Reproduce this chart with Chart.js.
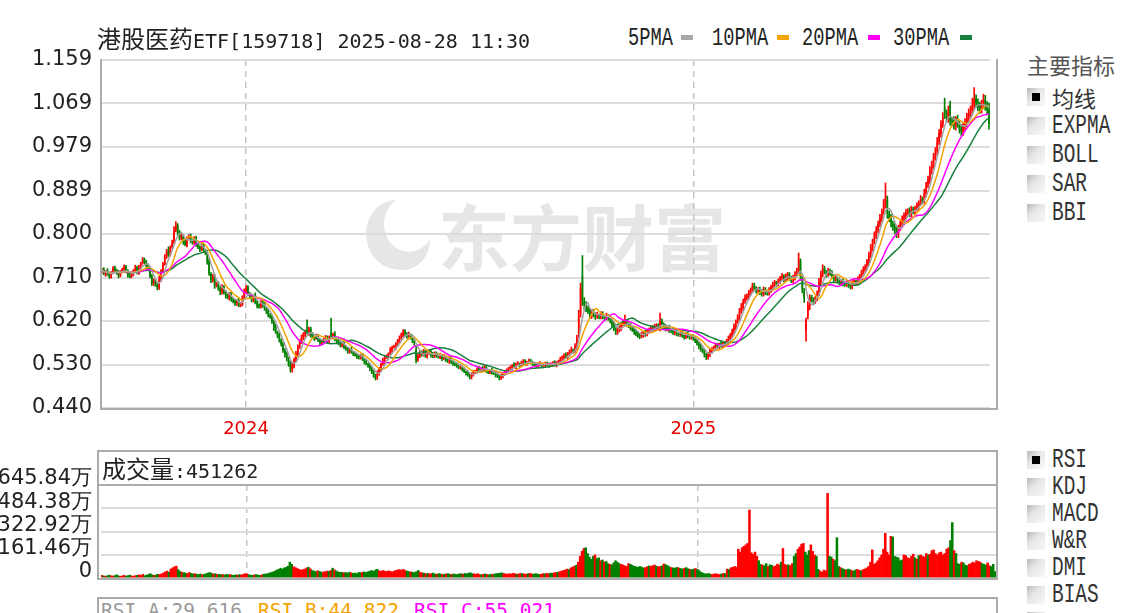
<!DOCTYPE html>
<html>
<head>
<meta charset="utf-8">
<script src="https://cdn.jsdelivr.net/npm/chart.js@4.4.1/dist/chart.umd.min.js"></script>
<style>
  body { margin: 0; background: #fff; width: 1125px; height: 613px; overflow: hidden; position: relative; }
  .abs { position: absolute; white-space: nowrap; }
  .cjk { font-family: "Noto Sans CJK SC", sans-serif; }
  .mono { font-family: "DejaVu Sans Mono", monospace; }
  .narrow { font-family: "Liberation Mono", monospace; transform: scaleX(0.72); transform-origin: left center; }
  .sq { position: absolute; top: 35px; width: 12px; height: 5px; }
  .cb { position: absolute; left: 1027px; width: 18px; height: 18px; z-index: 2;
        background: linear-gradient(135deg, #b8b8b8 0%, #e6e6e6 40%, #f8f8f8 100%); }
  .cb.on::after { content: ''; position: absolute; left: 5px; top: 5px; width: 8px; height: 8px; background: #000; }
  .opt { position: absolute; left: 1052px; font-size: 27px; line-height: 28px; color: #333; z-index: 2; }
  canvas { position: absolute; left: 0; z-index: 1; }
  .frame { position: absolute; box-sizing: border-box; border: 0 solid #ababab; z-index: 2; }
</style>
</head>
<body>

<!-- watermark -->
<div class="abs" style="left:366px;top:200px;width:64px;height:70px;border-radius:50% 50% 45% 55%;background:#e6e6e8;z-index:0"></div>
<div class="abs" style="left:384px;top:196px;width:50px;height:56px;border-radius:50%;background:#fff;z-index:0"></div>
<div class="abs cjk" style="left:438px;top:196px;font-size:72px;line-height:76px;font-weight:700;color:#e6e6e8;z-index:0">东方财富</div>

<!-- title and legend -->
<div class="abs" style="left:97px;top:22px;line-height:32px;color:#222;z-index:2">
  <span class="cjk" style="font-size:24px">港股医药</span><span class="mono" style="font-size:20px">ETF[159718] 2025-08-28 11:30</span>
</div>
<div class="abs narrow" style="left:628px;top:22px;font-size:26px;line-height:32px;color:#222">5PMA</div>
<div class="sq" style="left:681px;background:#a8a8a8"></div>
<div class="abs narrow" style="left:712px;top:22px;font-size:26px;line-height:32px;color:#222">10PMA</div>
<div class="sq" style="left:777px;background:#f5a300"></div>
<div class="abs narrow" style="left:802px;top:22px;font-size:26px;line-height:32px;color:#222">20PMA</div>
<div class="sq" style="left:868px;background:#ff00ff"></div>
<div class="abs narrow" style="left:893px;top:22px;font-size:26px;line-height:32px;color:#222">30PMA</div>
<div class="sq" style="left:960px;background:#17803d"></div>

<!-- right panel -->
<div class="abs cjk" style="left:1027px;top:49px;font-size:22px;line-height:30px;color:#555">主要指标</div>
<div class="cb on" style="top:88px"></div><div class="opt cjk" style="top:83px;font-size:22px">均线</div>
<div class="cb" style="top:117px"></div><div class="opt narrow" style="top:112px">EXPMA</div>
<div class="cb" style="top:146px"></div><div class="opt narrow" style="top:141px">BOLL</div>
<div class="cb" style="top:175px"></div><div class="opt narrow" style="top:170px">SAR</div>
<div class="cb" style="top:204px"></div><div class="opt narrow" style="top:199px">BBI</div>

<div class="cb on" style="top:451px"></div><div class="opt narrow" style="top:446px">RSI</div>
<div class="cb" style="top:478px"></div><div class="opt narrow" style="top:473px">KDJ</div>
<div class="cb" style="top:505px"></div><div class="opt narrow" style="top:500px">MACD</div>
<div class="cb" style="top:532px"></div><div class="opt narrow" style="top:527px">W&amp;R</div>
<div class="cb" style="top:559px"></div><div class="opt narrow" style="top:554px">DMI</div>
<div class="cb" style="top:586px"></div><div class="opt narrow" style="top:581px">BIAS</div>
<div class="cb" style="top:612px"></div>

<!-- frames -->
<div class="frame" style="left:100px;top:59px;width:898px;height:351px;border-left-width:2px;border-right-width:2px;border-bottom-width:2px"></div>
<div class="frame" style="left:97px;top:450px;width:901px;height:36px;border-width:2px"></div>
<div class="frame" style="left:97px;top:484px;width:901px;height:96px;border-left-width:2px;border-right-width:2px;border-bottom-width:2px"></div>
<div class="frame" style="left:97px;top:597px;width:901px;height:40px;border-width:2px"></div>

<div class="abs" style="left:102px;top:452px;line-height:32px;color:#222;z-index:2">
  <span class="cjk" style="font-size:24px">成交量</span><span class="mono" style="font-size:20px">:451262</span>
</div>
<div class="abs mono" style="left:101px;top:598px;font-size:19.5px;line-height:26px;color:#9a9a9a;z-index:2">RSI_A:29.616</div>
<div class="abs mono" style="left:258px;top:598px;font-size:19.5px;line-height:26px;color:#f5a300;z-index:2">RSI_B:44.822</div>
<div class="abs mono" style="left:414px;top:598px;font-size:19.5px;line-height:26px;color:#ff00ff;z-index:2">RSI_C:55.021</div>

<canvas id="price" width="1000" height="410" style="top:40px"></canvas>
<canvas id="vol" width="1000" height="135" style="top:450px"></canvas>

<script>
// daily bars, Sep 2023 .. 2025-08-28; prices in thousandths of a yuan
const yearMarks = { 78: '2024', 320: '2025' };

const opens = [
  722,726,717,723,718,711,719,730,725,720, 713,722,726,732,724,714,712,717,725,730,
  719,730,739,748,742,734,727,713,697,703, 695,688,705,723,737,753,765,757,773,782,
  808,816,803,791,795,786,777,790,796,785, 781,792,777,773,767,778,764,761,744,717,
  703,713,694,697,688,679,691,680,671,667, 678,663,661,656,663,654,654,669,681,690,
  675,671,663,673,660,651,649,661,654,644, 642,631,630,618,608,597,592,580,574,559,
  553,540,532,518,526,541,550,567,576,586, 590,600,595,604,592,585,586,589,579,575,
  579,583,587,578,594,589,594,583,579,573, 569,573,565,563,557,561,555,553,549,548,
  544,549,541,537,531,529,521,516,507,503, 511,519,531,536,545,545,553,558,566,565,
  571,577,586,590,598,593,589,591,587,579, 560,540,547,556,551,557,547,553,557,551,
  547,554,548,547,549,543,545,541,536,543, 536,531,531,527,525,525,521,515,513,507,
  504,509,515,515,521,517,523,519,525,517, 514,519,513,513,507,507,503,505,511,513,
  517,521,523,529,525,531,531,529,533,537, 531,536,537,535,531,531,527,531,531,529,
  529,533,529,529,530,535,529,533,535,541, 543,549,545,551,557,559,559,566,590,636,
  712,660,654,646,641,630,639,633,629,631, 629,635,627,627,629,626,620,613,603,597,
  601,605,613,615,619,613,611,605,603,597, 595,589,589,591,597,593,599,601,607,603,
  607,611,605,619,613,609,603,607,601,601, 595,599,593,593,595,591,587,593,589,587,
  589,583,581,573,569,561,559,549,545,551, 557,563,565,571,567,573,569,575,571,577,
  583,589,599,607,619,627,641,647,661,667, 671,679,683,693,687,683,685,681,675,685,
  681,677,685,689,695,699,697,701,709,711, 707,711,717,707,705,709,717,723,742,710,
  682,600,630,651,669,663,661,667,677,699, 717,729,721,717,723,721,711,707,709,705,
  699,703,697,697,699,695,691,699,701,701, 705,711,721,725,733,741,757,769,785,797,
  807,821,831,847,861,870,841,833,821,815, 809,799,813,821,831,837,845,849,841,851,
  847,853,857,865,871,869,883,901,911,931, 943,959,971,991,1007,1027,1062,1047,1039,1066,
  1033,1033,1023,1037,1027,1019,1011,1023,1029,1041, 1047,1053,1065,1079,1069,1063,1057,1069,1077,1063,
  1062
];

const closes = [
  725,718,722,716,712,720,728,724,719,714, 721,727,731,722,715,711,718,724,729,720,
  731,738,746,741,735,728,712,698,702,694, 689,706,722,738,752,764,758,772,781,806,
  818,802,790,796,784,778,789,795,786,782, 790,778,772,768,776,765,760,742,718,705,
  712,692,698,686,680,690,678,672,668,676, 664,660,657,662,652,655,668,680,688,676,
  670,664,672,658,652,650,660,652,645,640, 632,628,620,606,598,590,582,572,560,551,
  542,530,520,528,540,552,566,578,585,592, 598,596,602,590,586,584,588,580,576,580,
  582,586,579,584,590,592,584,578,574,570, 572,566,562,558,560,556,552,550,547,545,
  548,542,536,532,528,522,515,508,504,512, 520,530,538,544,546,552,560,565,566,572,
  578,584,592,596,594,588,592,586,580,574, 538,548,555,552,556,548,552,558,550,548,
  553,549,546,550,542,546,540,537,542,535, 532,530,528,524,526,520,516,512,508,505,
  510,514,516,520,518,522,520,524,518,515, 518,514,512,508,506,504,506,510,514,518,
  520,524,528,526,530,532,528,534,536,532, 535,538,534,532,530,528,530,532,528,530,
  532,530,528,531,534,530,532,536,540,544, 548,546,552,556,560,558,568,582,630,688,
  662,652,645,640,632,638,634,628,632,630, 634,628,626,630,625,622,612,604,598,602,
  606,612,616,618,614,610,606,602,598,594, 590,588,592,596,594,598,602,606,604,608,
  610,606,618,614,608,604,606,602,600,596, 598,594,592,596,590,588,592,590,586,588,
  584,580,574,568,562,558,550,546,552,558, 562,566,570,568,572,570,574,572,578,584,
  590,598,608,618,628,640,648,660,668,672, 678,684,692,688,682,686,680,676,684,680,
  678,684,690,694,700,696,702,708,712,706, 712,716,708,704,710,716,724,748,712,684,
  666,622,652,668,664,660,668,676,700,718, 728,722,716,724,720,712,706,710,704,700,
  702,698,696,700,694,692,698,702,700,706, 712,720,726,732,742,756,770,784,798,808,
  820,832,846,862,878,842,832,822,814,808, 800,812,822,830,838,844,848,842,850,848,
  852,858,864,872,868,884,900,912,930,944, 958,972,990,1008,1026,1040,1048,1040,1052,1034,
  1032,1024,1036,1028,1018,1012,1022,1030,1040,1048, 1052,1066,1078,1070,1062,1058,1068,1076,1064,1056,
  1028
];

// shadow lengths above the body top and below the body bottom
const upperShadow = [
  3,4,2,5,3,2,4,3,2,4, 3,2,5,3,2,4,3,2,6,3, 4,3,5,2,3,4,2,3,5,3, 2,6,4,3,5,4,8,3,6,9,
  7,5,4,6,3,4,5,3,4,3, 4,3,5,2,4,3,4,2,5,3, 4,3,2,4,3,5,2,3,4,3, 2,4,3,2,5,3,4,6,5,3,
  4,3,2,5,3,4,2,3,5,3, 3,4,2,3,5,2,4,3,2,4, 3,5,4,6,3,5,4,3,6,4, 3,22,5,3,4,2,5,3,4,2,
  3,4,2,5,32,3,4,2,3,4, 2,3,4,2,3,5,2,3,4,2, 3,4,2,3,2,4,3,2,3,5, 4,3,5,3,4,2,5,3,4,3,
  4,5,3,6,4,3,5,2,4,3, 8,3,4,2,5,3,4,3,2,4, 3,2,4,3,2,5,3,2,4,3, 2,3,2,4,3,2,3,2,4,3,
  3,4,2,3,5,2,3,4,2,3, 2,3,4,2,3,2,4,3,2,3, 4,3,2,5,3,4,2,3,4,3, 2,3,4,2,3,2,3,4,2,3,
  3,2,4,3,2,3,4,3,5,4, 4,5,3,4,6,3,5,8,12,10, 43,8,6,5,4,6,5,4,6,3, 5,4,3,6,4,3,5,4,3,5,
  4,3,5,14,4,3,4,5,3,4, 3,4,5,3,4,5,3,4,3,5, 4,3,18,5,3,4,3,4,3,2, 3,4,2,3,4,2,3,4,3,2,
  3,4,2,3,4,3,2,4,3,4, 3,2,4,3,2,4,3,2,4,5, 4,5,6,4,5,6,8,5,6,4, 5,4,6,5,4,3,5,4,6,4,
  3,5,4,6,4,3,5,4,6,4, 5,4,3,5,4,6,5,12,6,4, 5,4,8,6,4,5,3,6,8,5, 8,4,3,5,4,3,4,5,3,4,
  3,4,5,3,4,3,5,4,3,5, 4,5,6,4,5,6,8,5,6,7, 6,8,5,9,27,8,6,7,5,6, 5,6,4,7,5,6,4,5,7,4,
  5,6,4,7,5,8,6,7,9,6, 8,6,9,7,8,10,18,9,12,8, 7,9,6,8,5,7,6,8,9,10, 12,14,24,8,10,9,8,12,9,10,
  8
];
const lowerShadow = [
  4,3,5,2,4,3,2,4,3,5, 2,3,4,3,5,2,3,4,2,3, 3,4,2,3,5,4,3,5,4,3, 5,3,4,3,2,4,5,3,4,3,
  4,5,3,4,6,3,4,3,5,4, 3,4,3,5,2,4,3,5,4,6, 3,5,4,3,6,4,3,5,3,4, 4,3,5,4,3,5,3,4,3,4,
  3,5,4,3,5,4,3,4,3,5, 4,3,5,6,4,5,6,4,5,6, 5,4,6,4,3,5,3,4,3,5, 4,3,5,4,3,5,4,3,5,3,
  4,3,5,3,4,3,5,4,3,4, 3,4,3,5,4,3,4,3,5,4, 3,4,5,3,4,5,4,5,6,4, 3,4,3,5,3,4,3,4,3,5,
  4,3,4,3,5,4,3,4,5,4, 5,4,3,5,4,3,4,3,5,4, 3,4,3,5,4,3,4,3,4,3, 4,3,4,3,5,4,3,4,3,5,
  4,3,4,3,4,3,4,3,5,4, 3,4,3,4,3,6,4,3,4,3, 4,3,4,3,4,3,4,3,4,3, 3,4,3,4,3,4,3,4,3,4,
  4,3,4,3,4,3,4,3,4,3, 4,3,5,4,3,5,4,6,5,8, 10,8,6,5,7,5,6,5,4,6, 5,4,6,5,4,6,5,4,6,5,
  4,5,4,6,5,4,5,4,6,5, 4,5,4,5,6,4,5,4,5,4, 5,4,6,5,4,5,4,6,5,4, 4,5,4,5,4,6,4,5,4,5,
  4,5,4,6,5,4,5,6,4,5, 4,5,4,5,4,5,4,5,4,5, 5,4,6,5,4,6,5,6,5,4, 6,5,4,6,5,4,6,5,4,6,
  5,4,6,5,4,6,5,4,5,6, 5,6,4,5,6,5,4,6,8,6, 8,22,6,8,5,6,5,6,5,6, 6,5,6,5,6,5,6,5,6,5,
  5,6,5,6,5,6,5,6,5,6, 6,5,6,5,6,5,6,5,6,7, 6,7,6,7,8,10,7,8,7,8, 8,7,6,7,6,7,6,7,6,7,
  7,6,7,6,7,6,7,6,7,8, 8,7,8,7,8,7,10,8,9,10, 9,8,9,8,10,9,8,9,8,9, 9,8,10,9,8,9,8,10,9,8,
  12
];

// volume in 万 (10k shares)
const volumes = [
  18,14,12,16,20,15,13,17,22,14, 12,15,18,13,16,20,14,12,17,19, 22,18,25,16,20,24,30,22,18,20, 26,24,28,35,42,48,40,62,70,78,
  82,58,45,40,36,34,30,38,32,28, 30,26,24,28,22,26,30,34,38,32, 28,30,24,26,22,24,20,26,22,24, 20,18,22,19,24,20,26,30,28,22,
  20,18,22,24,20,18,22,26,28,30, 34,38,42,48,55,60,68,62,70,74, 82,110,95,78,72,66,60,54,58,62, 70,75,64,52,48,44,50,46,40,42,
  44,48,46,52,68,56,48,42,38,40, 36,38,34,40,36,32,34,30,38,36, 40,42,38,44,48,52,46,56,60,50, 46,52,48,44,50,46,42,48,52,56,
  58,54,60,52,48,44,42,40,38,44, 52,40,36,34,30,32,28,30,34,28, 26,30,28,24,26,28,30,26,24,28, 26,24,28,30,26,32,28,34,36,30,
  28,26,30,24,22,26,28,24,22,26, 24,28,30,32,34,36,30,28,26,30, 28,32,30,26,28,32,30,28,26,30, 32,28,26,30,28,24,26,30,28,32,
  30,34,32,36,38,40,44,48,52,56, 62,58,70,76,82,90,110,150,185,205, 210,170,145,130,150,160,135,140,120,125, 110,115,100,95,90,105,120,110,100,95,
  90,85,80,100,95,88,82,78,74,80, 76,70,72,78,84,80,86,90,82,78, 80,84,98,92,86,78,72,70,68,74, 70,66,62,68,72,64,60,58,62,66,
  60,52,40,34,30,28,32,26,24,28, 30,26,24,28,32,30,62,58,70,74, 80,76,200,180,210,220,230,240,472,175, 165,180,150,120,95,90,85,100,80,92,
  88,78,84,96,90,110,205,95,88,92, 86,100,150,170,200,215,235,240,180,160, 190,230,185,160,150,60,48,40,55,50, 588,150,145,130,120,280,80,72,65,60,
  55,62,58,52,48,56,60,54,50,58, 62,70,80,110,195,95,105,120,140,160, 200,310,180,160,290,285,150,145,140,120, 125,160,155,140,135,150,165,140,130,155,
  160,150,145,170,160,165,190,195,170,160, 175,180,160,170,200,210,260,385,190,170, 100,95,110,105,90,85,95,100,110,105, 120,115,110,100,95,90,105,85,80,95,
  45
];

const priceTickLabels = ['0.440', '0.530', '0.620', '0.710', '0.800', '0.889', '0.979', '1.069', '1.159'];
const priceMin = 0.440, priceMax = 1.159;
const volTickLabels = ['0', '161.46万', '322.92万', '484.38万', '645.84万'];
const volMax = 645.84;

const labels = closes.map((_, i) => yearMarks[i] || '');
const rising = closes.map((c, i) => c >= opens[i]);
const barColors = rising.map(r => r ? '#ff0000' : '#008000');

const bodies = closes.map((c, i) => [opens[i] / 1000, c / 1000]);
const wicks = closes.map((c, i) => [
  (Math.min(c, opens[i]) - lowerShadow[i]) / 1000,
  (Math.max(c, opens[i]) + upperShadow[i]) / 1000
]);

function movingAverage(period) {
  return closes.map((_, i) => {
    const from = Math.max(0, i - period + 1);
    let sum = 0;
    for (let k = from; k <= i; k++) sum += closes[k];
    return sum / (i - from + 1) / 1000;
  });
}

const maLine = (period, color) => ({
  type: 'line', data: movingAverage(period), borderColor: color, borderWidth: 1.5,
  pointRadius: 0, tension: 0, order: 0
});

// dashed vertical line at each year start
const yearGrid = {
  offset: false, drawTicks: false,
  color: ctx => labels[ctx.index] ? '#c4c4c4' : 'rgba(0,0,0,0)',
  lineWidth: ctx => labels[ctx.index] ? 1.5 : 0
};

// fixed axis width, and no extra room for the end labels
const fixYAxis = s => { s.width = 101; s.paddingTop = 0; s.paddingBottom = 0; };

const common = {
  responsive: false, animation: false, devicePixelRatio: 1, events: [],
  plugins: { legend: { display: false }, tooltip: { enabled: false } }
};

new Chart(document.getElementById('price'), {
  type: 'bar',
  data: {
    labels: labels,
    datasets: [
      maLine(5, '#a0a0a0'),
      maLine(10, '#f5a300'),
      maLine(20, '#ff00ff'),
      maLine(30, '#17803d'),
      { data: bodies, backgroundColor: barColors, grouped: false, barPercentage: 0.85, categoryPercentage: 1, minBarLength: 1, order: 1 },
      { data: wicks, backgroundColor: barColors, grouped: false, barThickness: 1, order: 2 }
    ]
  },
  options: {
    ...common,
    layout: { padding: { top: 20, right: 4, left: 0, bottom: 0 } },
    scales: {
      x: {
        grid: yearGrid,
        border: { display: false, dash: [6, 5] },
        ticks: {
          autoSkip: false, maxRotation: 0, padding: 11, color: '#e60000',
          font: { family: 'DejaVu Sans', size: 18 },
          callback: (v, i) => labels[i]
        },
        afterFit: s => { s.height = 42; }
      },
      y: {
        min: priceMin, max: priceMax,
        afterBuildTicks: s => {
          s.ticks = priceTickLabels.map((t, k) => ({ value: priceMin + k * (priceMax - priceMin) / 8 }));
        },
        grid: { color: '#dcdcdc', lineWidth: 2, drawTicks: false },
        border: { display: false },
        ticks: {
          autoSkip: false, padding: 9, color: '#222', font: { family: 'DejaVu Sans', size: 21 },
          callback: (v, i) => priceTickLabels[i]
        },
        afterFit: fixYAxis
      }
    }
  }
});

new Chart(document.getElementById('vol'), {
  type: 'bar',
  data: {
    labels: labels,
    datasets: [
      { data: volumes, backgroundColor: barColors, barPercentage: 1, categoryPercentage: 1 }
    ]
  },
  options: {
    ...common,
    layout: { padding: { top: 35, right: 4, left: 0, bottom: 0 } },
    scales: {
      x: {
        grid: yearGrid,
        border: { display: false, dash: [6, 5] },
        ticks: { display: false },
        afterFit: s => { s.height = 7; }
      },
      y: {
        min: 0, max: volMax,
        afterBuildTicks: s => {
          s.ticks = volTickLabels.map((t, k) => ({ value: k * volMax / 4 }));
        },
        grid: { color: '#dcdcdc', lineWidth: 2, drawTicks: false },
        border: { display: false },
        ticks: {
          autoSkip: false, padding: 9, labelOffset: -6, color: '#222', font: { family: 'DejaVu Sans', size: 21 },
          callback: (v, i) => volTickLabels[i]
        },
        afterFit: fixYAxis
      }
    }
  }
});
</script>
</body>
</html>
